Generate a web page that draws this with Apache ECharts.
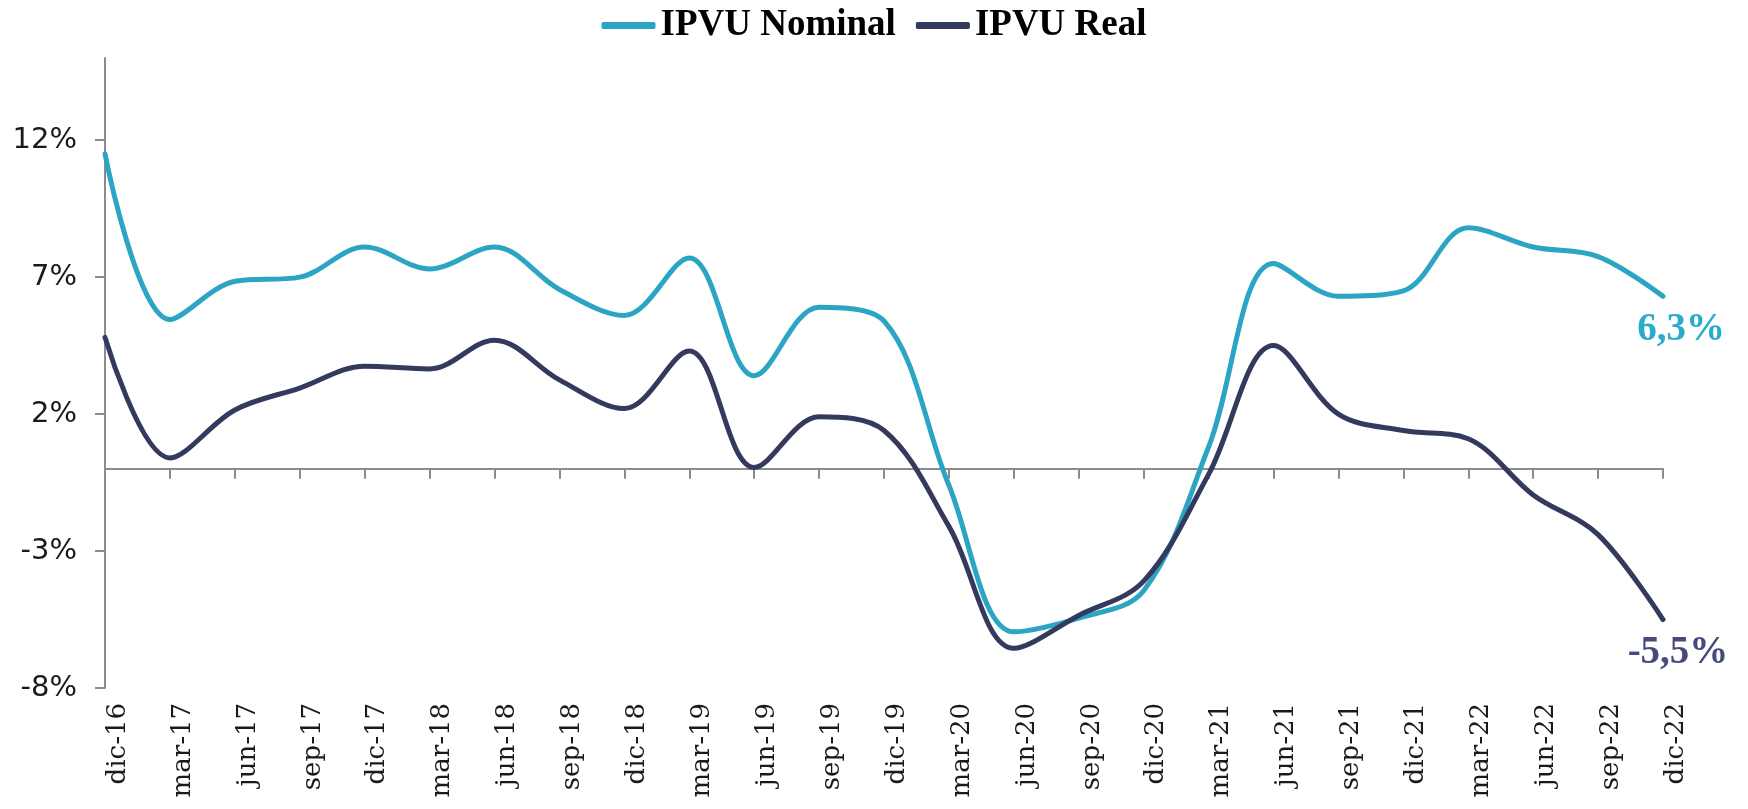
<!DOCTYPE html>
<html>
<head>
<meta charset="utf-8">
<title>IPVU</title>
<script src="https://cdn.jsdelivr.net/npm/echarts@6/dist/echarts.min.js"></script>
<style>
  html, body { margin: 0; padding: 0; background: #fff; }
  #main { width: 1748px; height: 809px; }
</style>
</head>
<body>
<div id="main"></div>
<script>
// trimestres
var categories = ['dic-16', 'mar-17', 'jun-17', 'sep-17', 'dic-17', 'mar-18', 'jun-18', 'sep-18', 'dic-18',
    'mar-19', 'jun-19', 'sep-19', 'dic-19', 'mar-20', 'jun-20', 'sep-20', 'dic-20',
    'mar-21', 'jun-21', 'sep-21', 'dic-21', 'mar-22', 'jun-22', 'sep-22', 'dic-22'];

// variacion anual (%)
var ipvuNominal = [11.5, 5.45, 6.85, 7.0, 8.1, 7.3, 8.1, 6.55, 5.6,
    7.7, 3.4, 5.9, 5.4, -0.6, -5.95, -5.45, -4.45,
    0.8, 7.5, 6.3, 6.5, 8.8, 8.1, 7.75, 6.3];
var ipvuReal = [4.8, 0.4, 2.15, 2.95, 3.75, 3.65, 4.7, 3.25, 2.2,
    4.3, 0.05, 1.9, 1.4, -2.1, -6.55, -5.35, -4.1,
    -0.2, 4.5, 2.0, 1.4, 1.1, -0.95, -2.4, -5.5];

var yTicks = [-8, -3, 2, 7, 12];

var colorNominal = '#2ca5c4';
var colorReal = '#343a5e';

function pct(v) {
    return v.toFixed(1).replace('.', ',') + '%';
}

var myChart = echarts.init(document.getElementById('main'));

myChart.setOption({
    animation: false,
    color: [colorNominal, colorReal],
    legend: {
        top: 2,
        left: 'center',
        itemGap: 20,
        itemWidth: 54,
        itemHeight: 7,
        icon: 'roundRect',
        textStyle: {
            fontFamily: 'Liberation Serif',
            fontWeight: 'bold',
            fontSize: 37,
            color: '#000'
        },
        data: ['IPVU Nominal', 'IPVU Real']
    },
    grid: {
        left: 105,
        right: 85,
        top: 58,
        bottom: 121,
        containLabel: false
    },
    xAxis: [
        {
            // linea del cero
            type: 'category',
            data: categories,
            boundaryGap: false,
            axisLine: { onZero: true, lineStyle: { color: '#8c8c8c', width: 2 } },
            axisTick: { show: true, interval: 0, length: 10, lineStyle: { color: '#8c8c8c', width: 2 } },
            axisLabel: { show: false },
            splitLine: { show: false }
        },
        {
            // etiquetas abajo
            type: 'category',
            data: categories,
            boundaryGap: false,
            position: 'bottom',
            axisLine: { show: false, onZero: false },
            axisTick: { show: false },
            axisLabel: {
                interval: 0,
                rotate: 90,
                margin: 15,
                verticalAlign: 'top',
                fontFamily: 'DejaVu Serif',
                fontSize: 26,
                color: '#1a1a1a'
            },
            splitLine: { show: false }
        }
    ],
    yAxis: {
        type: 'value',
        min: -8,
        max: 15,
        interval: 5,
        axisLine: { show: true, lineStyle: { color: '#8c8c8c', width: 2 } },
        axisTick: { show: true, length: 10, customValues: yTicks, lineStyle: { color: '#8c8c8c', width: 2 } },
        axisLabel: {
            customValues: yTicks,
            margin: 28,
            fontFamily: 'DejaVu Sans',
            fontSize: 29,
            color: '#1a1a1a',
            formatter: '{value}%'
        },
        splitLine: { show: false }
    },
    series: [
        {
            name: 'IPVU Nominal',
            type: 'line',
            xAxisIndex: 0,
            data: ipvuNominal,
            smooth: 0.35,
            showSymbol: false,
            lineStyle: { width: 5, color: colorNominal, cap: 'round' },
            endLabel: {
                show: true,
                formatter: function (p) { return pct(p.value); },
                align: 'center',
                verticalAlign: 'top',
                distance: 18,
                padding: [14, 0, 0, 0],
                fontFamily: 'Liberation Serif',
                fontWeight: 'bold',
                fontSize: 39,
                color: '#29abcd'
            }
        },
        {
            name: 'IPVU Real',
            type: 'line',
            xAxisIndex: 0,
            data: ipvuReal,
            smooth: 0.35,
            showSymbol: false,
            lineStyle: { width: 5, color: colorReal, cap: 'round' },
            endLabel: {
                show: true,
                formatter: function (p) { return pct(p.value); },
                align: 'center',
                verticalAlign: 'top',
                distance: 15,
                padding: [14, 0, 0, 0],
                fontFamily: 'Liberation Serif',
                fontWeight: 'bold',
                fontSize: 39,
                color: '#454b7d'
            }
        }
    ]
});
</script>
</body>
</html>
